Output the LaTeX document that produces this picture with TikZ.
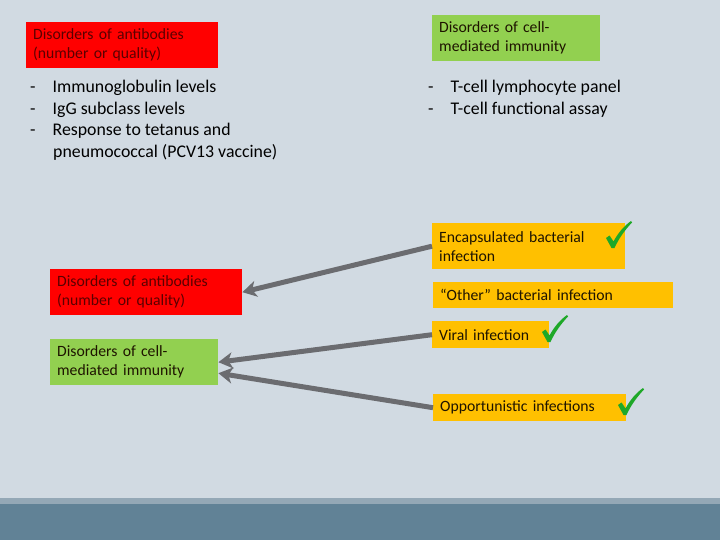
\documentclass[tikz,border=0pt]{standalone}
\usepackage{fontspec}
\setmainfont{Carlito}
\usetikzlibrary{arrows.meta,calc}
\definecolor{bg}{HTML}{D1DAE2}
\definecolor{bandlight}{HTML}{94A8B6}
\definecolor{banddark}{HTML}{618296}
\definecolor{boxred}{HTML}{FF0000}
\definecolor{boxgreen}{HTML}{92D050}
\definecolor{boxorange}{HTML}{FFC000}
\definecolor{redtxt}{HTML}{5A0000}
\definecolor{darktxt}{HTML}{1E1400}
\definecolor{arrowgray}{HTML}{6B6C70}
\definecolor{checkgreen}{HTML}{1EA828}
\begin{document}
\begin{tikzpicture}[x=1pt,y=-1pt,
  box/.style={anchor=north west, inner xsep=7pt, inner ysep=0pt, align=left,
    font=\fontsize{15.7}{19}\selectfont},
  redbox/.style={box, fill=boxred, text=redtxt},
  greenbox/.style={box, fill=boxgreen, text=darktxt},
  orangebox/.style={box, fill=boxorange, text=darktxt},
  item/.style={anchor=base west, inner sep=0pt, text=black,
    font=\fontsize{17.8}{21.5}\selectfont},
  conn/.style={draw=arrowgray, line width=5pt,
    -{Stealth[length=14pt,width=16pt,inset=4pt]}},
  pics/checkmk/.style={code={
    \fill[checkgreen] (0,17) -- (3.5,14.5) -- (7.5,20.5)
      .. controls (12,12) and (18,5) .. (25,0) -- (26,1.5)
      .. controls (19,9) and (13,17) .. (8.5,27) -- (5.5,27) -- cycle;}}
]
\fill[bg] (0,0) rectangle (720,540);
\useasboundingbox (0,0) rectangle (720,540);
\fill[bandlight] (0,498) rectangle (720,504);
\fill[banddark] (0,504) rectangle (720,540);

% top headers
\node[redbox, text width=178pt, minimum height=46pt] (abA) at (26,22)
  {Disorders of antibodies\\(number or quality)};
\node[greenbox, text width=154pt, minimum height=46pt] (cmA) at (432,15)
  {Disorders of cell-\\mediated immunity};

% bullet lists
\node[item] (la1) at (30,93) {-\hspace{17pt}Immunoglobulin levels};
\node[item] (la2) at (30,114.5) {-\hspace{17pt}IgG subclass levels};
\node[item] (la3) at (30,136) {-\hspace{17pt}Response to tetanus and};
\node[item] (la4) at (53,157.5) {pneumococcal (PCV13 vaccine)};
\node[item] (lb1) at (428,93) {-\hspace{17pt}T-cell lymphocyte panel};
\node[item] (lb2) at (428,114.5) {-\hspace{17pt}T-cell functional assay};

% lower left boxes
\node[redbox, text width=178pt, minimum height=46pt] (abB) at (50,269)
  {Disorders of antibodies\\(number or quality)};
\node[greenbox, text width=154pt, minimum height=46pt] (cmB) at (50,339)
  {Disorders of cell-\\mediated immunity};

% infection boxes
\node[orangebox, text width=179pt, minimum height=46pt] (enc) at (432,223)
  {Encapsulated bacterial\\infection};
\node[orangebox, text width=226pt, minimum height=26pt] (oth) at (433,282)
  {“Other” bacterial infection};
\node[orangebox, text width=103pt, minimum height=27pt] (vir) at (432,321)
  {Viral infection};
\node[orangebox, text width=179pt, minimum height=27pt] (opp) at (433,394)
  {Opportunistic infections};

% check marks
\pic at (606,221) {checkmk};
\pic at (542,315) {checkmk};
\pic at (618,388) {checkmk};

% connectors
\draw[conn] (enc.west) -- (abB.east);
\draw[conn] (vir.west) -- (cmB.east);
\draw[conn] (opp.west) -- ($(cmB.east)+(0,11)$);
\end{tikzpicture}
\end{document}
